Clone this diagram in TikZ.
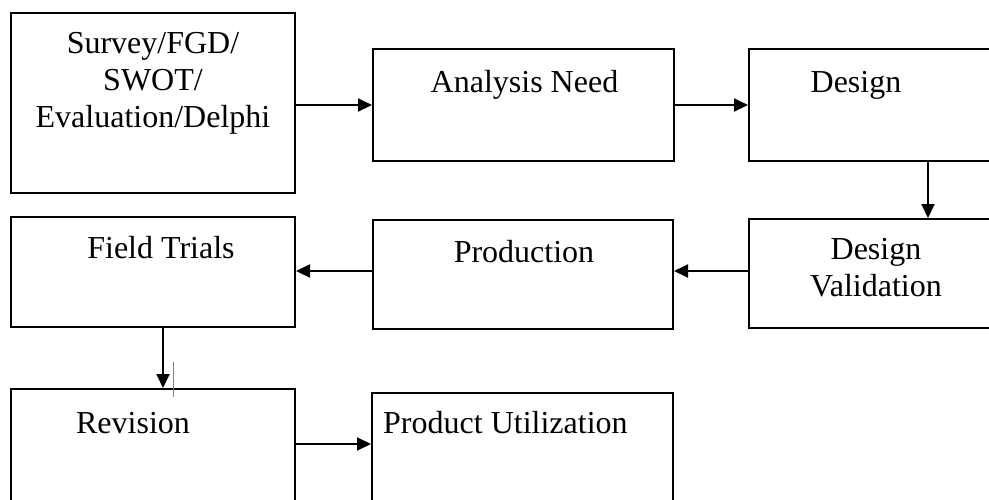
\documentclass[tikz,border=0pt]{standalone}
\usepackage{fontspec}
\setmainfont{Liberation Serif}
\usetikzlibrary{arrows.meta}

\begin{document}
\begin{tikzpicture}[x=1pt,y=-1pt,
  box/.style={draw=black,line width=2pt,rectangle,inner sep=0pt},
  txt/.style={inner sep=0pt,font=\fontsize{32}{37}\selectfont},
  flow/.style={draw=black,line width=2pt,-{Triangle[length=14pt,width=13pt]}}]
\useasboundingbox (0,0) rectangle (989,499);
\clip (0,0) rectangle (989,499);
% boxes
\node [box,minimum width=284pt,minimum height=180pt] (survey) at (153,103) {};
\node [box,minimum width=301pt,minimum height=112pt] (need) at (523.5,105) {};
\node [box,minimum width=358pt,minimum height=112pt] (design) at (928,105) {};
\node [box,minimum width=358pt,minimum height=109pt] (valid) at (928,273.5) {};
\node [box,minimum width=300pt,minimum height=109pt] (prod) at (523,274.5) {};
\node [box,minimum width=284pt,minimum height=110pt] (field) at (153,272) {};
\node [box,minimum width=284pt,minimum height=112pt] (revis) at (153,445) {};
\node [box,minimum width=301pt,minimum height=112pt] (util) at (522.5,449) {};
% texts
\node [txt,align=center,anchor=north] (surveytxt) at (153,32) {Survey/FGD/\\SWOT/\\Evaluation/Delphi};
\node [txt,anchor=base] (needtxt) at (524.5,92) {Analysis Need};
\node [txt,anchor=base] (designtxt) at (856,92) {Design};
\node [txt,align=center,anchor=north] (validtxt) at (876,238.5) {Design\\Validation};
\node [txt,anchor=base] (prodtxt) at (524,262) {Production};
\node [txt,anchor=base] (fieldtxt) at (161,258) {Field Trials};
\node [txt,anchor=base] (revistxt) at (133,433) {Revision};
\node [txt,anchor=base west] (utiltxt) at (383,433) {Product Utilization};
% arrows
\draw [flow] (survey.east |- need.west) -- (need.west);
\draw [flow] (need.east) -- (design.west);
\draw [flow] (design.south) -- (valid.north);
\draw [flow] (valid.west |- 0,271) -- (prod.east |- 0,271);
\draw [flow] (prod.west |- 0,271) -- (field.east |- 0,271);
\draw [flow] ([xshift=10pt]field.south) -- ([xshift=10pt]revis.north);
\draw [flow] (revis.east |- 0,444) -- (util.west |- 0,444);
% stray tick
\draw [gray,line width=0.8pt] ([xshift=20pt,yshift=26pt]revis.north) -- ([xshift=20pt,yshift=-9pt]revis.north);
\end{tikzpicture}
\end{document}
